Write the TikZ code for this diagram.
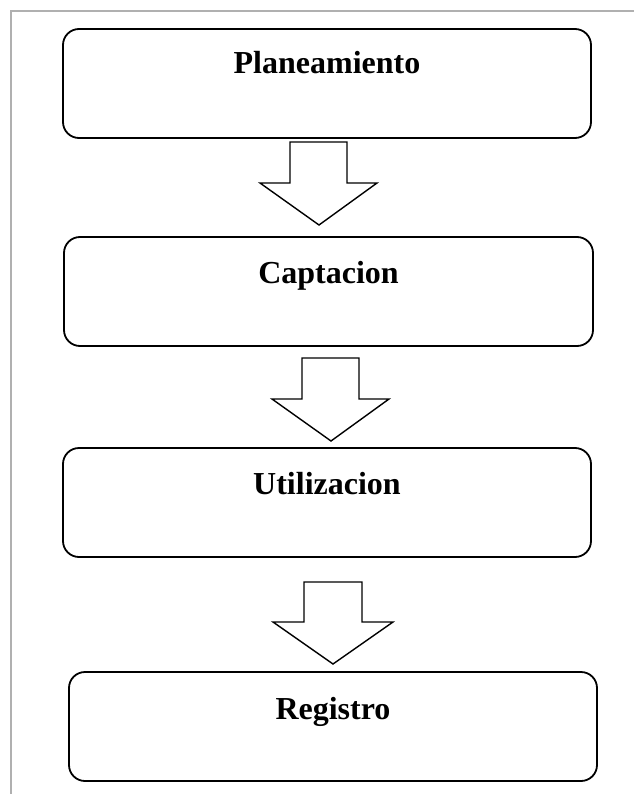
\documentclass[tikz,border=0pt]{standalone}
\usepackage{fontspec}
\setmainfont{Liberation Serif}
\begin{document}
\begin{tikzpicture}[x=1pt,y=-1pt,
  stagebox/.style={draw=black, line width=1.8pt, rounded corners=16pt, inner sep=0pt, outer sep=0pt},
  stagelbl/.style={anchor=base, inner sep=0pt, font=\fontsize{32}{38}\selectfont\bfseries},
  blockarrow/.style={draw=black, line width=1.4pt, fill=white, line join=miter}]
\useasboundingbox (0,0) rectangle (634,794);
\draw[color={rgb,255:red,176;green,176;blue,176}, line width=2pt] (11,794) -- (11,11) -- (634,11);
% boxes
\node[stagebox, minimum width=528pt, minimum height=109pt] (b1) at (327,83.5) {};
\node[stagebox, minimum width=529pt, minimum height=109pt] (b2) at (328.5,291.5) {};
\node[stagebox, minimum width=528pt, minimum height=109pt] (b3) at (327,502.5) {};
\node[stagebox, minimum width=528pt, minimum height=109pt] (b4) at (333,726.5) {};
% labels
\node[stagelbl] (t1) at (327,74) {Planeamiento};
\node[stagelbl] (t2) at (328.5,283) {Captacion};
\node[stagelbl] (t3) at (327,494) {Utilizacion};
\node[stagelbl] (t4) at (333,719) {Registro};
% block arrows
\draw[blockarrow] (290,142) -- (347,142) -- (347,183) -- (377,183) -- (319,225) -- (260,183) -- (290,183) -- cycle;
\draw[blockarrow] (302,358) -- (359,358) -- (359,399) -- (389,399) -- (331,441) -- (272,399) -- (302,399) -- cycle;
\draw[blockarrow] (304,582) -- (362,582) -- (362,622) -- (393,622) -- (333,664) -- (273,622) -- (304,622) -- cycle;
\end{tikzpicture}
\end{document}
